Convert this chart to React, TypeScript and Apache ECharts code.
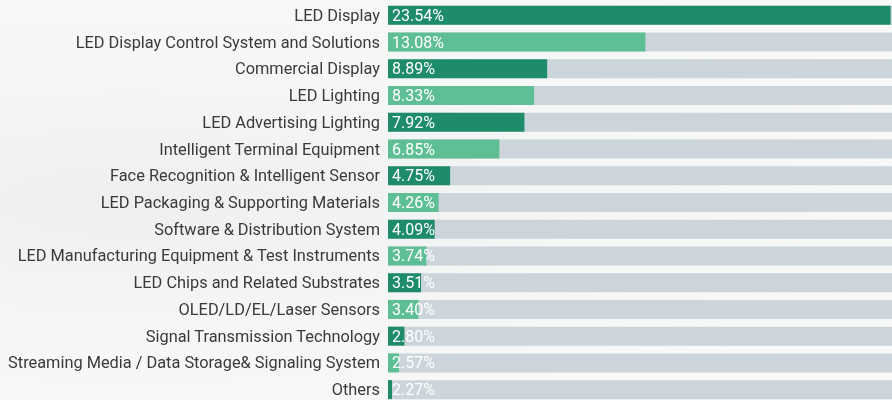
import React, { useEffect, useRef } from "react";
import * as echarts from "echarts";

const categories = [
  "LED Display",
  "LED Display Control System and Solutions",
  "Commercial Display",
  "LED Lighting",
  "LED Advertising Lighting",
  "Intelligent Terminal Equipment",
  "Face Recognition & Intelligent Sensor",
  "LED Packaging & Supporting Materials",
  "Software & Distribution System",
  "LED Manufacturing Equipment & Test Instruments",
  "LED Chips and Related Substrates",
  "OLED/LD/EL/Laser Sensors",
  "Signal Transmission Technology",
  "Streaming Media / Data Storage& Signaling System",
  "Others",
];
const shares = [23.54, 13.08, 8.89, 8.33, 7.92, 6.85, 4.75, 4.26, 4.09, 3.74, 3.51, 3.4, 2.8, 2.57, 2.27];
const axisMin = 2.1;
const axisMax = 23.6;

export default function App() {
  const ref = useRef<HTMLDivElement>(null);
  useEffect(() => {
    if (!ref.current) return;
    const chart = echarts.init(ref.current, undefined, { renderer: "svg" });
    const dark = "#1e8c6a";
    const light = "#5fbf94";
    chart.setOption({
      animation: false,
      backgroundColor: "transparent",
      grid: { left: 388, right: 0, top: 2, bottom: 0, containLabel: false },
      xAxis: {
        type: "value",
        min: axisMin,
        max: axisMax,
        show: false,
      },
      yAxis: {
        type: "category",
        inverse: true,
        data: categories,
        axisLine: { show: false },
        axisTick: { show: false },
        axisLabel: {
          color: "#3a3a3a",
          fontSize: 16.35,
          fontFamily: "Roboto",
          margin: 8,
          padding: [2, 0, 0, 0],
        },
      },
      series: [
        {
          type: "bar",
          data: shares.map((v, i) => ({
            value: v,
            itemStyle: { color: i % 2 === 0 ? dark : light },
          })),
          barWidth: 19,
          showBackground: true,
          backgroundStyle: { color: "#cbd5db" },
          label: {
            show: true,
            position: "insideLeft",
            distance: 4,
            color: "#ffffff",
            fontSize: 16,
            fontFamily: "Roboto",
            formatter: (p: any) => p.value.toFixed(2) + "%",
          },
        },
      ],
    });
    return () => chart.dispose();
  }, []);
  return (
    <div
      style={{
        position: "fixed",
        left: 0,
        top: 0,
        width: 892,
        height: 403,
        background:
          "radial-gradient(ellipse at 15% 50%, #eeeff0 0%, #f5f6f6 45%, #f9f9f9 100%)",
      }}
    >
      <div ref={ref} style={{ width: 892, height: 403 }} />
    </div>
  );
}
